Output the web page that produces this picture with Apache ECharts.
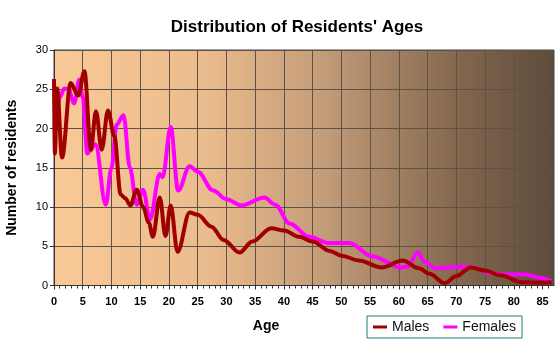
<!DOCTYPE html>
<html><head><meta charset="utf-8">
<script src="https://cdn.jsdelivr.net/npm/echarts@6/dist/echarts.min.js"></script>
<style>html,body{margin:0;padding:0;background:#fff}#c{width:560px;height:353px}</style>
</head><body><div id="c"></div>
<script>
const title = "Distribution of Residents' Ages";
const xTicks = [0,5,10,15,20,25,30,35,40,45,50,55,60,65,70,75,80,85];
const yTicks = [0,5,10,15,20,25,30];
const maleAges = [0,0.15,0.55,1.4,2.9,4.2,5.3,6.4,7.3,8.3,9.4,10.5,11.6,12.4,13.3,14.4,15.5,16.5,17.2,18.4,19.4,20.3,21.5,23.6,25,27.4,29.5,32.3,34.5,37.8,40,42.7,45,48,50,53,57,60.7,63.5,65.3,68,70,72.5,75,77.7,81.4,84,86.6];
const males    = [26.3,16.8,25.1,16.3,25.8,24.2,27.3,17.3,22.2,17.3,22.3,19,11.6,11.1,10.2,12.2,10,8,6.2,11.2,6.3,10.2,4.3,9.3,9,7.5,5.8,4.2,5.6,7.3,7,6.2,5.6,4.4,3.8,3.2,2.3,3.2,2.2,1.5,0.3,1.2,2.3,1.9,1.3,0.4,0.35,0.4];
const femaleAges = [0.3,1,1.8,2.5,3.5,4.4,5,5.8,6.3,7.2,9,10,10.9,12.1,13.2,14.4,15.5,16.7,18.4,18.9,20.3,21.6,23.6,25,27.7,30,32.6,36.6,38.5,41,44.4,47.9,51.4,55.4,60.4,61.5,63.3,64.5,66.4,71,73,76.2,79,82,84.5,86.6];
const females    = [20.2,24,25.1,25,23.2,26.2,24,16.8,17.2,18,10.3,15,20.5,21.7,15,10.3,12.2,8.4,14.2,13.8,20.2,12.1,15.2,14.5,12.1,11,10.2,11.2,10.3,7.9,6.2,5.4,5.4,3.7,2.3,2.4,4.2,3,2.2,2.4,2.3,1.55,1.4,1.4,1,0.5];

const font = 'Liberation Sans, Arial, sans-serif';
const chart = echarts.init(document.getElementById('c'), null, {renderer:'canvas'});
const zip = (a,b) => a.map((x,i)=>[x,b[i]]);
chart.setOption({
  animation:false,
  backgroundColor:'#fff',
  title:{text:title,left:292,top:14,textAlign:'center',textStyle:{fontFamily:font,fontSize:17,fontWeight:'bold',color:'#000'}},
  grid:{left:54,top:50,width:500,height:235.5,show:true,borderColor:'#444',borderWidth:1,
    outerBoundsMode:'none',containLabel:false,
    backgroundColor:new echarts.graphic.LinearGradient(0,0,1,0,[
      {offset:0,color:'#f9c997'},{offset:0.3,color:'#ebbc8d'},{offset:0.55,color:'#c19a77'},{offset:0.8,color:'#85694f'},{offset:1,color:'#5d4b3b'}])},
  xAxis:{type:'value',min:0,max:87,interval:5,
    name:'Age',nameLocation:'middle',nameGap:34,nameTextStyle:{fontFamily:font,fontSize:14,fontWeight:'bold',color:'#000',padding:[0,76,0,0]},
    axisLine:{show:true,lineStyle:{color:'#333'}},
    axisTick:{show:true,length:4,lineStyle:{color:'#333'},customValues:xTicks},
    minorTick:{show:true,splitNumber:5,length:3,lineStyle:{color:'#333'}},
    axisLabel:{fontFamily:font,fontSize:11,fontWeight:'bold',color:'#000',margin:11,
      customValues:xTicks},
    splitLine:{show:true,lineStyle:{color:'#5e5248',width:1}}},
  yAxis:{type:'value',min:0,max:30,interval:5,
    name:'Number of residents',nameLocation:'middle',nameGap:35,nameTextStyle:{fontFamily:font,fontSize:14,fontWeight:'bold',color:'#000'},
    axisLine:{show:true,lineStyle:{color:'#333'}},
    axisTick:{show:true,length:4,lineStyle:{color:'#333'}},
    axisLabel:{fontFamily:font,fontSize:11,color:'#000',margin:6,customValues:yTicks},
    splitLine:{show:true,lineStyle:{color:'#5e5248',width:1}}},
  legend:{left:367,top:316,width:155,height:24,padding:[4,6,4,6],itemGap:14,
    borderColor:'#1a7a7a',borderWidth:1,icon:'rect',itemWidth:14,itemHeight:3,
    textStyle:{fontFamily:font,fontSize:14,color:'#111'},
    data:['Males','Females']},
  series:[
    {name:'Females',type:'line',data:zip(femaleAges,females),smooth:0.35,smoothMonotone:'x',showSymbol:false,
      lineStyle:{color:'#ff00ff',width:4},itemStyle:{color:'#ff00ff'},z:2},
    {name:'Males',type:'line',data:zip(maleAges,males),smooth:0.35,smoothMonotone:'x',showSymbol:false,
      lineStyle:{color:'#a00000',width:4},itemStyle:{color:'#a00000'},z:3}
  ]
});
</script></body></html>
